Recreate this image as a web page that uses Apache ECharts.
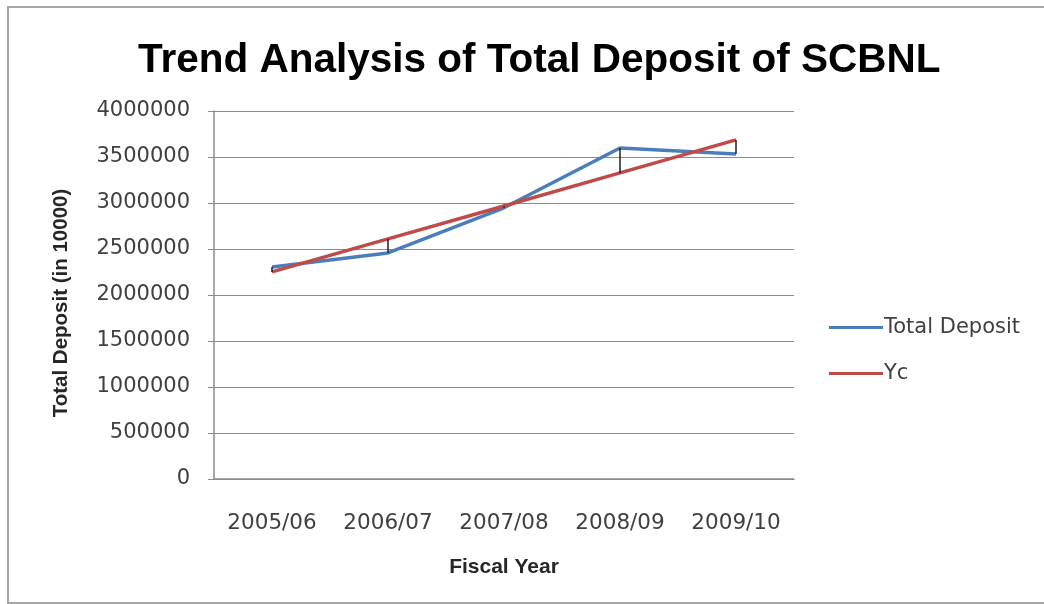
<!DOCTYPE html>
<html>
<head>
<meta charset="utf-8">
<style>
  html, body { margin: 0; padding: 0; background: #ffffff; }
  #chart { width: 1044px; height: 604px; }
</style>
<script src="https://cdn.jsdelivr.net/npm/echarts@6/dist/echarts.min.js"></script>
</head>
<body>
<div id="chart"></div>
<script>
// Fiscal years on the category axis
const fiscalYears = ['2005/06', '2006/07', '2007/08', '2008/09', '2009/10'];
// Actual total deposit (in 10000)
const totalDeposit = [2304000, 2457000, 2948000, 3598000, 3533000];
// Fitted straight-line trend values (Yc)
const trendYc = [2251000, 2610000, 2968000, 3327000, 3686000];
// Value axis ticks
const yMin = 0;
const yMax = 4000000;
const yStep = 500000;

const regularFont = 'DejaVu Sans';
const boldFont = 'Liberation Sans';

// Pairs of (actual, trend) per year for the deviation connectors
const deviationPairs = fiscalYears.map((_, i) => [i, totalDeposit[i], trendYc[i]]);

const chart = echarts.init(document.getElementById('chart'), null, { renderer: 'canvas' });

chart.setOption({
  animation: false,
  backgroundColor: '#ffffff',
  title: {
    text: 'Trend Analysis of Total Deposit of SCBNL',
    left: 133,
    top: 35,
    textStyle: {
      fontFamily: boldFont,
      fontWeight: 'bold',
      fontSize: 40.5,
      color: '#000000'
    }
  },
  graphic: [{
    type: 'rect',
    shape: { x: 8, y: 7, width: 1050, height: 596 },
    style: { fill: 'none', stroke: '#a6a6a6', lineWidth: 2 },
    silent: true,
    z: -1
  }],
  legend: {
    orient: 'vertical',
    left: 824,
    top: 312,
    itemWidth: 54,
    itemHeight: 3,
    itemGap: 25,
    icon: 'rect',
    data: ['Total Deposit', 'Yc'],
    textStyle: {
      fontFamily: regularFont,
      fontSize: 21,
      color: '#404040',
      padding: [0, 0, 0, -4]
    }
  },
  grid: {
    left: 214,
    top: 111,
    right: 250,
    bottom: 125,
    containLabel: false
  },
  xAxis: {
    type: 'category',
    data: fiscalYears,
    boundaryGap: true,
    name: 'Fiscal Year',
    nameLocation: 'middle',
    nameGap: 78,
    nameTextStyle: {
      fontFamily: boldFont,
      fontWeight: 'bold',
      fontSize: 21,
      color: '#262626'
    },
    axisLine: { lineStyle: { color: '#8c8c8c', width: 1.5 } },
    axisTick: { show: false },
    axisLabel: {
      interval: 0,
      hideOverlap: false,
      margin: 33,
      fontFamily: regularFont,
      fontSize: 21.5,
      color: '#404040'
    },
    splitLine: { show: false }
  },
  yAxis: {
    type: 'value',
    min: yMin,
    max: yMax,
    interval: yStep,
    name: 'Total Deposit (in 10000)',
    nameLocation: 'middle',
    nameGap: 142,
    nameRotate: 90,
    nameTextStyle: {
      fontFamily: boldFont,
      fontWeight: 'bold',
      fontSize: 20.5,
      color: '#262626',
      padding: [0, 0, 0, -16]
    },
    axisLine: { show: true, lineStyle: { color: '#8c8c8c', width: 1.5 } },
    axisTick: { show: true, inside: false, length: 6, lineStyle: { color: '#8c8c8c' } },
    axisLabel: {
      margin: 24,
      fontFamily: regularFont,
      fontSize: 21,
      color: '#404040',
      formatter: function (v) { return String(v); }
    },
    splitLine: { show: true, lineStyle: { color: '#8c8c8c', width: 1.2 } }
  },
  series: [
    {
      name: 'Total Deposit',
      type: 'line',
      data: totalDeposit,
      showSymbol: false,
      symbol: 'none',
      color: '#4a7ebb',
      lineStyle: { color: '#4a7ebb', width: 3.5 },
      z: 2
    },
    {
      name: 'Yc',
      type: 'line',
      data: trendYc,
      showSymbol: false,
      symbol: 'none',
      color: '#be4b48',
      lineStyle: { color: '#be4b48', width: 3.5 },
      z: 3
    },
    {
      // vertical connectors between actual and trend value of each year
      name: 'deviation',
      type: 'custom',
      data: deviationPairs,
      encode: { x: 0, y: [1, 2] },
      z: 4,
      silent: true,
      renderItem: function (params, api) {
        const a = api.coord([api.value(0), api.value(1)]);
        const b = api.coord([api.value(0), api.value(2)]);
        return {
          type: 'line',
          shape: { x1: a[0], y1: a[1], x2: b[0], y2: b[1] },
          style: { stroke: '#1f1f1f', lineWidth: 1.5 }
        };
      }
    }
  ]
});
</script>
</body>
</html>
